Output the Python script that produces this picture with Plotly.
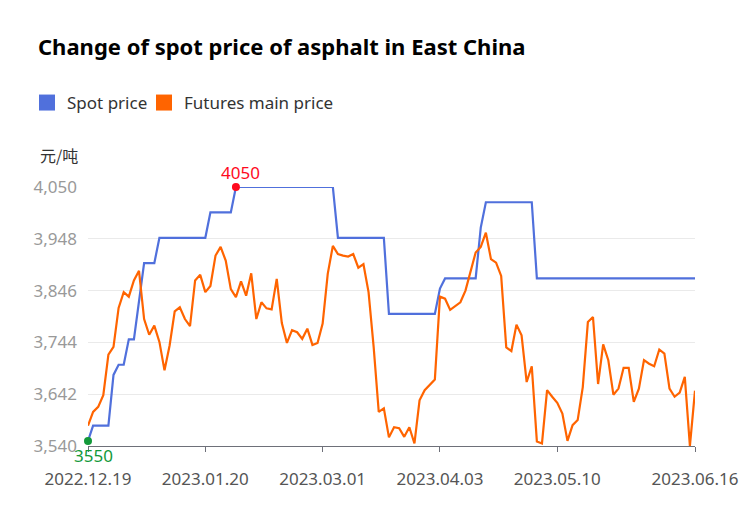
import pandas as pd
import plotly.graph_objects as go

# trading days 2022.12.19 - 2023.06.16 (SHFE calendar)
holidays = ['2023-01-02', '2023-01-23', '2023-01-24', '2023-01-25', '2023-01-26',
            '2023-01-27', '2023-04-05', '2023-05-01', '2023-05-02', '2023-05-03']
dates = pd.bdate_range('2022-12-19', '2023-06-16', freq='C', holidays=holidays)
dates = [d.strftime('%Y.%m.%d') for d in dates]

spot = [3550, 3580, 3580, 3580, 3580, 3680, 3700, 3700, 3750, 3750,
        3830, 3900, 3900, 3900, 3950, 3950, 3950, 3950, 3950, 3950,
        3950, 3950, 3950, 3950, 4000, 4000, 4000, 4000, 4000, 4050,
        4050, 4050, 4050, 4050, 4050, 4050, 4050, 4050, 4050, 4050,
        4050, 4050, 4050, 4050, 4050, 4050, 4050, 4050, 4050, 3950,
        3950, 3950, 3950, 3950, 3950, 3950, 3950, 3950, 3950, 3800,
        3800, 3800, 3800, 3800, 3800, 3800, 3800, 3800, 3800, 3850,
        3870, 3870, 3870, 3870, 3870, 3870, 3870, 3970, 4020, 4020,
        4020, 4020, 4020, 4020, 4020, 4020, 4020, 4020, 3870, 3870,
        3870, 3870, 3870, 3870, 3870, 3870, 3870, 3870, 3870, 3870,
        3870, 3870, 3870, 3870, 3870, 3870, 3870, 3870, 3870, 3870,
        3870, 3870, 3870, 3870, 3870, 3870, 3870, 3870, 3870, 3870]

futures = [3580, 3607, 3617, 3640, 3720, 3735, 3812, 3843, 3834, 3866,
           3885, 3790, 3759, 3777, 3745, 3689, 3738, 3805, 3813, 3790,
           3776, 3866, 3877, 3843, 3855, 3915, 3932, 3905, 3849, 3833,
           3864, 3836, 3880, 3790, 3823, 3811, 3809, 3869, 3782, 3743,
           3768, 3764, 3751, 3771, 3739, 3743, 3781, 3879, 3934, 3918,
           3915, 3913, 3918, 3891, 3898, 3843, 3735, 3607, 3614, 3557,
           3577, 3575, 3558, 3577, 3545, 3630, 3650, 3660, 3671, 3834,
           3830, 3808, 3815, 3823, 3846, 3882, 3921, 3932, 3960, 3908,
           3901, 3875, 3734, 3727, 3779, 3758, 3666, 3697, 3549, 3545,
           3650, 3637, 3625, 3604, 3550, 3581, 3591, 3656, 3784, 3794,
           3662, 3740, 3709, 3641, 3653, 3694, 3694, 3627, 3653, 3709,
           3702, 3697, 3730, 3722, 3653, 3637, 3645, 3676, 3540, 3649]

y_ticks = [3540, 3642, 3744, 3846, 3948, 4050]
x_ticks = ['2022.12.19', '2023.01.20', '2023.03.01', '2023.04.03', '2023.05.10', '2023.06.16']

blue = '#5070dc'
orange = '#ff6400'
red = '#ff0a1e'
green = '#13993a'
font = 'Noto Sans'

# page body adds an 8px margin, so the figure is 8px smaller on each axis
W, H = 742, 502

fig = go.Figure()
fig.add_trace(go.Scatter(x=dates, y=spot, mode='lines', name='Spot price',
                         line=dict(color=blue, width=2.2), showlegend=False))
fig.add_trace(go.Scatter(x=dates, y=futures, mode='lines', name='Futures main price',
                         line=dict(color=orange, width=2.2), showlegend=False))
# legend swatches, one legend each so they can sit where the reference has them
for name, c, lg in [('Spot price', blue, 'legend'), ('Futures main price', orange, 'legend2')]:
    fig.add_trace(go.Scatter(x=[None], y=[None], mode='markers', name=name, legend=lg,
                             marker=dict(symbol='square', size=16, color=c)))

# max / min points of spot
i_max = spot.index(max(spot))
i_min = spot.index(min(spot))
fig.add_trace(go.Scatter(x=[dates[i_max], dates[i_min]], y=[spot[i_max], spot[i_min]],
                         mode='markers', marker=dict(color=[red, green], size=8),
                         showlegend=False, cliponaxis=False))

leg = dict(orientation='h', xref='container', yref='container', xanchor='left',
           y=1 - 95 / H, yanchor='middle', font=dict(size=17, color='#333'),
           itemwidth=30, bgcolor='rgba(0,0,0,0)')

fig.update_layout(
    width=W, height=H,
    margin=dict(l=80, r=53, t=179, b=64),
    paper_bgcolor='white', plot_bgcolor='white',
    font=dict(family=font, size=17, color='#333'),
    title=dict(text='<b>Change of spot price of asphalt in East China</b>',
               x=30 / W, xanchor='left', y=1 - 39 / H, yanchor='middle',
               font=dict(size=22, color='#000')),
    legend=dict(leg, x=19 / W),
    legend2=dict(leg, x=136 / W),
    xaxis=dict(type='category', range=[0, len(dates) - 1],
               tickvals=x_ticks, ticktext=x_ticks,
               showgrid=False, showline=True, linecolor='#6e7079', linewidth=1,
               ticks='outside', ticklen=5, tickcolor='#6e7079', ticklabelstandoff=13,
               tickfont=dict(size=17, color='#555')),
    yaxis=dict(range=[3540, 4050], tickvals=y_ticks, tickformat=',',
               showgrid=True, gridcolor='#eaeaea', zeroline=False,
               showline=False, ticks='', ticklabelstandoff=10,
               tickfont=dict(size=17, color='#999')),
    annotations=[
        dict(text='元/吨', xref='paper', yref='paper', x=0, xanchor='right',
             xshift=-8, y=1 + 32 / 259, yanchor='middle', showarrow=False,
             font=dict(family='Noto Sans CJK SC', size=16, color='#333')),
        dict(text=str(spot[i_max]), x=dates[i_max], y=spot[i_max], xshift=5, yshift=15,
             showarrow=False, font=dict(size=17, color=red)),
        dict(text=str(spot[i_min]), x=dates[i_min], y=spot[i_min], xshift=5, yshift=-15,
             showarrow=False, font=dict(size=17, color=green)),
    ],
)

fig.write_html('out.html')
